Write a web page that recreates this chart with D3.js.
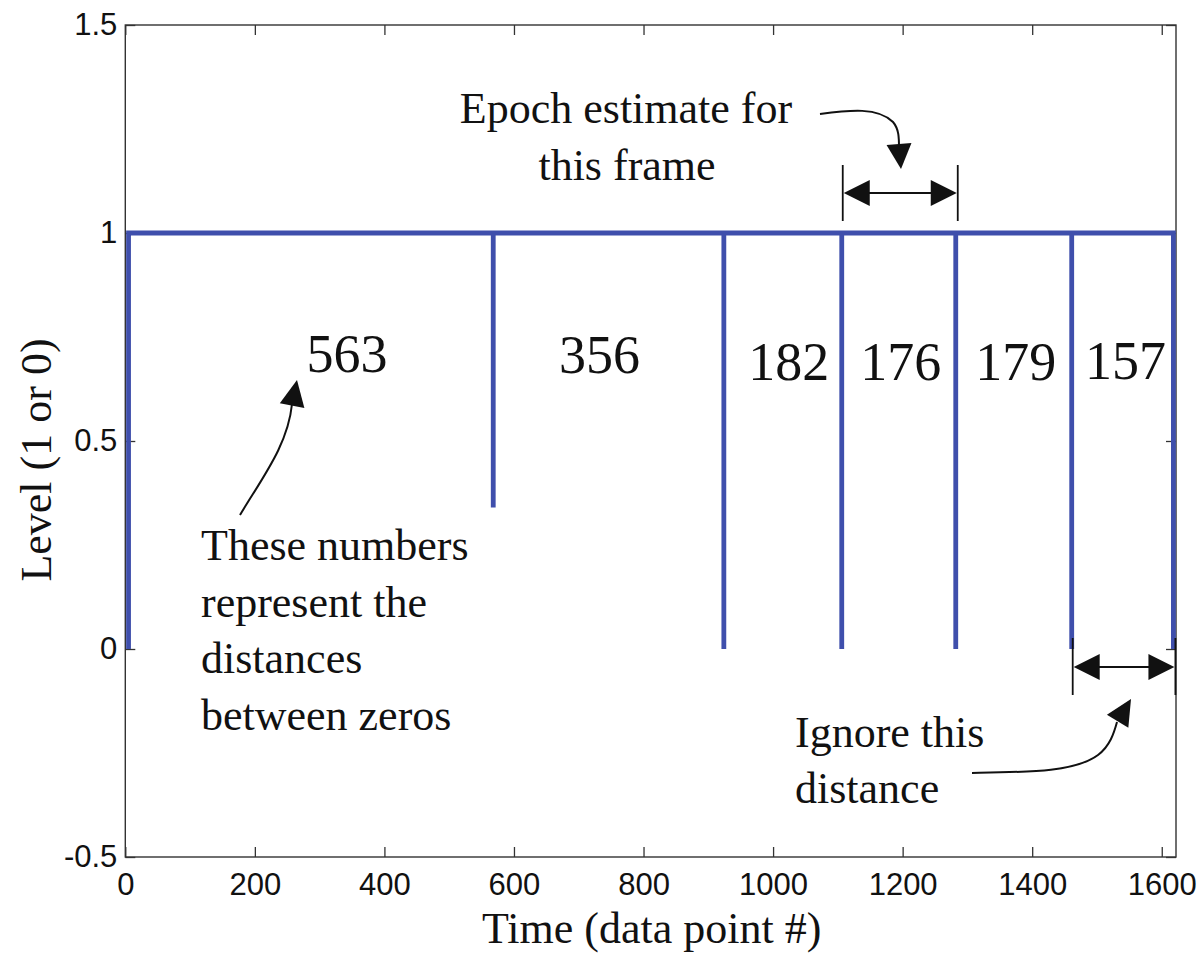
<!DOCTYPE html>
<html>
<head>
<meta charset="utf-8">
<script src="https://cdn.jsdelivr.net/npm/d3@7"></script>
<style>
  html, body { margin: 0; padding: 0; background: #fff; }
  svg { display: block; }
  .tick text { font-family: "Liberation Sans", Arial, sans-serif; font-size: 31px; fill: #111; }
  .serif { font-family: "Liberation Serif", "Times New Roman", serif; fill: #111; }
</style>
</head>
<body>
<svg id="chart" width="1203" height="957"></svg>
<script>
// Axis ranges and ticks
const xDomain = [0, 1622];
const yDomain = [-0.5, 1.5];
const xTicks = [0, 200, 400, 600, 800, 1000, 1200, 1400, 1600];
const yTicks = [-0.5, 0, 0.5, 1, 1.5];

// Distances (in samples) between successive zeros of the level signal
const gaps = [563, 356, 182, 176, 179, 157];
const firstZero = 5;
// Lowest level reached at each zero crossing (the second one is only partly resolved)
const dipLevels = [0, 0.34, 0, 0, 0, 0, 0];

// Zero locations derived from the distances
const zeros = [firstZero];
gaps.forEach(g => zeros.push(zeros[zeros.length - 1] + g));

const svg = d3.select("#chart");
const plotL = 125.3, plotR = 1176, plotT = 25, plotB = 857;

const x = d3.scaleLinear().domain(xDomain).range([plotL, plotR]);
const y = d3.scaleLinear().domain(yDomain).range([plotB, plotT]);

// Frame
svg.append("rect")
  .attr("x", plotL).attr("y", plotT)
  .attr("width", plotR - plotL).attr("height", plotB - plotT)
  .attr("fill", "none").attr("stroke", "#333").attr("stroke-width", 1.4);

// Plain ASCII hyphen for negative tick labels
const fmtY = d => String(d);

const tick = 10;
const axB = svg.append("g").attr("transform", `translate(0,${plotB})`)
  .call(d3.axisBottom(x).tickValues(xTicks).tickSizeInner(-tick).tickSizeOuter(0).tickPadding(16).tickFormat(d => String(d)));
const axT = svg.append("g").attr("transform", `translate(0,${plotT})`)
  .call(d3.axisTop(x).tickValues(xTicks).tickSizeInner(-tick).tickSizeOuter(0).tickFormat(""));
const axL = svg.append("g").attr("transform", `translate(${plotL},0)`)
  .call(d3.axisLeft(y).tickValues(yTicks).tickSizeInner(-tick).tickSizeOuter(0).tickPadding(8).tickFormat(fmtY));
const axR = svg.append("g").attr("transform", `translate(${plotR},0)`)
  .call(d3.axisRight(y).tickValues(yTicks).tickSizeInner(-tick).tickSizeOuter(0).tickFormat(""));
[axB, axT, axL, axR].forEach(g => {
  g.select(".domain").remove();
  g.selectAll(".tick line").attr("stroke", "#333").attr("stroke-width", 1.3);
});

// Level signal: 1 everywhere except at the zeros
const pts = [];
zeros.forEach((z, i) => {
  if (i > 0) pts.push([z, 1]);
  pts.push([z, dipLevels[i]]);
  if (i < zeros.length - 1) pts.push([z, 1]);
});
svg.append("path")
  .datum(pts)
  .attr("fill", "none")
  .attr("stroke", "#3f4fac")
  .attr("stroke-width", 4.8)
  .attr("stroke-linejoin", "miter")
  .attr("d", d3.line().x(d => x(d[0])).y(d => y(d[1])));

// Axis titles
svg.append("text").attr("class", "serif")
  .attr("x", (plotL + plotR) / 2 + 1).attr("y", 943)
  .attr("text-anchor", "middle").attr("font-size", 44)
  .text("Time (data point #)");
svg.append("text").attr("class", "serif")
  .attr("transform", "translate(51,460) rotate(-90)")
  .attr("text-anchor", "middle").attr("font-size", 44)
  .text("Level (1 or 0)");

// Distance labels between zeros
const labelShift = [36, -9, 6, 2, 2, 3];
const labelBase = [372, 373, 380, 380, 380, 379];
gaps.forEach((g, i) => {
  const cx = (x(zeros[i]) + x(zeros[i + 1])) / 2 + labelShift[i];
  svg.append("text").attr("class", "serif")
    .attr("x", cx).attr("y", labelBase[i])
    .attr("text-anchor", "middle").attr("font-size", 54)
    .text(g);
});

// Annotation helpers
function arrowHead(tip, from, len, half) {
  const dx = tip[0] - from[0], dy = tip[1] - from[1];
  const L = Math.hypot(dx, dy), ux = dx / L, uy = dy / L;
  const bx = tip[0] - ux * len, by = tip[1] - uy * len;
  const p = [tip, [bx - uy * half, by + ux * half], [bx + uy * half, by - ux * half]];
  svg.append("path").attr("d", "M" + p.map(q => q.join(",")).join("L") + "Z").attr("fill", "#111");
}
function curve(d) {
  svg.append("path").attr("d", d).attr("fill", "none").attr("stroke", "#111").attr("stroke-width", 2);
}
function dimension(x0, x1, yMid, y0, y1) {
  svg.append("line").attr("x1", x0).attr("x2", x0).attr("y1", y0).attr("y2", y1).attr("stroke", "#111").attr("stroke-width", 1.8);
  svg.append("line").attr("x1", x1).attr("x2", x1).attr("y1", y0).attr("y2", y1).attr("stroke", "#111").attr("stroke-width", 1.8);
  svg.append("line").attr("x1", x0 + 20).attr("x2", x1 - 20).attr("y1", yMid).attr("y2", yMid).attr("stroke", "#111").attr("stroke-width", 1.8);
  arrowHead([x0 + 1, yMid], [x1, yMid], 26, 13);
  arrowHead([x1 - 1, yMid], [x0, yMid], 26, 13);
}

// "These numbers ..." note
const noteLines = ["These numbers", "represent the", "distances", "between zeros"];
noteLines.forEach((t, i) => {
  svg.append("text").attr("class", "serif")
    .attr("x", 201).attr("y", 560 + i * 56.5)
    .attr("font-size", 44).text(t);
});
curve("M240,515 C262,478 288,445 292,404");
arrowHead([297, 380], [292, 406], 26, 12.5);

// Epoch estimate note
svg.append("text").attr("class", "serif")
  .attr("x", 626).attr("y", 123).attr("text-anchor", "middle")
  .attr("font-size", 44).text("Epoch estimate for");
svg.append("text").attr("class", "serif")
  .attr("x", 627).attr("y", 180).attr("text-anchor", "middle")
  .attr("font-size", 44).text("this frame");
curve("M820,114 C850,110 878,107 893,122 C899,129 899,138 899,148");
arrowHead([901, 169], [899, 144], 25, 12.5);
dimension(x(zeros[3]) + 1, x(zeros[4]) + 2, 193, 165, 221);

// Ignore-this-distance note
svg.append("text").attr("class", "serif")
  .attr("x", 795).attr("y", 747).attr("font-size", 44).text("Ignore this");
svg.append("text").attr("class", "serif")
  .attr("x", 795).attr("y", 803).attr("font-size", 44).text("distance");
curve("M972,773 C1030,772 1075,772 1098,755 C1110,746 1114,733 1117,722");
arrowHead([1131, 699], [1116, 724], 26, 12.5);
dimension(x(zeros[5]) + 1, x(zeros[6]) + 2, 667, 638, 695);
</script>
</body>
</html>
